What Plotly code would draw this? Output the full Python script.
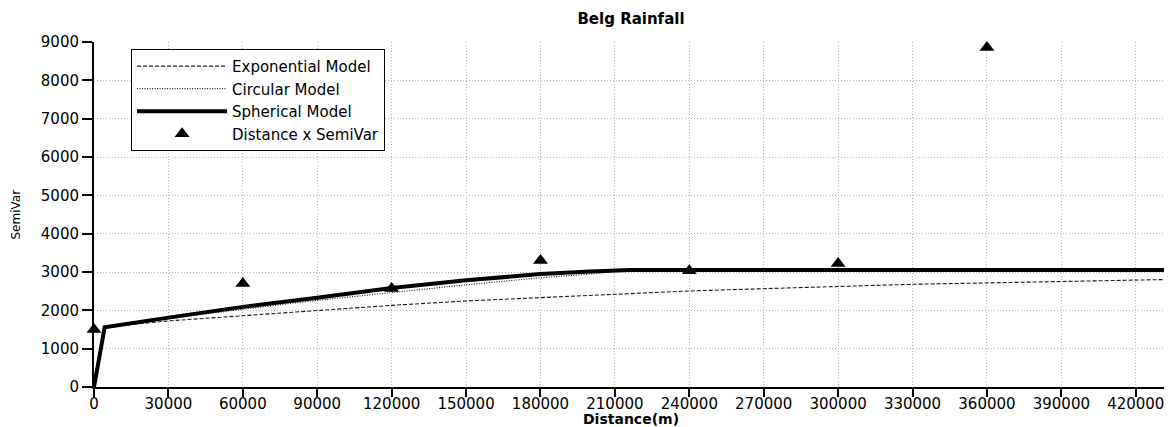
import plotly.graph_objects as go

# ---- data ----
obs_dist = [0, 60000, 120000, 180000, 240000, 300000, 360000]
obs_semivar = [1500, 2700, 2570, 3300, 3035, 3225, 8855]

exp_dist = [0, 4300, 30000, 60000, 90000, 120000, 150000, 180000, 210000,
            240000, 270000, 300000, 330000, 360000, 390000, 420000, 433000]
exp_semivar = [0, 1560, 1725, 1860, 1985, 2130, 2245, 2330, 2425,
               2505, 2565, 2630, 2680, 2715, 2750, 2775, 2805]

circ_dist = [0, 4300, 30000, 60000, 90000, 120000, 150000, 180000, 200000, 215000, 433000]
circ_semivar = [0, 1560, 1780, 2030, 2260, 2465, 2665, 2850, 2945, 3050, 3050]

sph_dist = [0, 4300, 30000, 60000, 90000, 120000, 150000, 180000, 200000, 216000, 433000]
sph_semivar = [0, 1560, 1810, 2090, 2330, 2580, 2785, 2945, 3015, 3055, 3055]

x_ticks = list(range(0, 420001, 30000))
y_ticks = list(range(0, 9001, 1000))

FONT = "DejaVu Sans"

# The page body adds an 8px margin, so the figure is sized/offset to compensate.
W, H = 1164, 419

fig = go.Figure()
fig.add_trace(go.Scatter(x=exp_dist, y=exp_semivar, mode="lines", name="Exponential Model",
                         line=dict(color="#1a1a1a", width=1.1, dash="4px,2px")))
fig.add_trace(go.Scatter(x=circ_dist, y=circ_semivar, mode="lines", name="Circular Model",
                         line=dict(color="#1a1a1a", width=1.1, dash="1px,1.5px")))
fig.add_trace(go.Scatter(x=sph_dist, y=sph_semivar, mode="lines", name="Spherical Model",
                         line=dict(color="black", width=4)))
fig.add_trace(go.Scatter(x=obs_dist, y=obs_semivar, mode="markers", name="Distance x SemiVar",
                         marker=dict(symbol="triangle-up", size=13, color="black"),
                         cliponaxis=False))

axis_common = dict(
    showline=True, linecolor="black", linewidth=2,
    ticks="outside", tickcolor="black", tickwidth=1.5,
    showgrid=True, gridcolor="#b4b4b4", griddash="1px,2px", gridwidth=1,
    zeroline=False, tickfont=dict(family=FONT, size=15, color="black"),
)

fig.update_layout(
    width=W, height=H,
    margin=dict(l=86, r=4, t=34, b=40),
    paper_bgcolor="white", plot_bgcolor="white",
    title=dict(text="<b>Belg Rainfall</b>", x=0.5, xref="paper", xanchor="center",
               y=(H - 11) / H, yanchor="middle",
               font=dict(family=FONT, size=15, color="black")),
    xaxis=dict(range=[0, 433000], tickvals=x_ticks, tickformat="d", ticklen=8,
               ticklabelstandoff=-6, **axis_common),
    yaxis=dict(range=[0, 9000], tickvals=y_ticks, tickformat="d", ticklen=10, **axis_common),
    legend=dict(x=0.0345, y=0.98, xanchor="left", yanchor="top",
                bgcolor="white", bordercolor="black", borderwidth=1,
                font=dict(family=FONT, size=15, color="black"),
                itemwidth=90, tracegroupgap=0),
    showlegend=True,
    annotations=[
        dict(text="<b>Distance(m)</b>", x=0.5, y=0, xref="paper", yref="paper",
             xanchor="center", yanchor="middle", yshift=-32, showarrow=False,
             font=dict(family=FONT, size=14, color="black")),
        dict(text="SemiVar", x=0, y=0.5, xref="paper", yref="paper",
             xanchor="center", yanchor="middle", xshift=-79, textangle=-90, showarrow=False,
             font=dict(family=FONT, size=12, color="black")),
    ],
)

fig.write_html("out.html")
